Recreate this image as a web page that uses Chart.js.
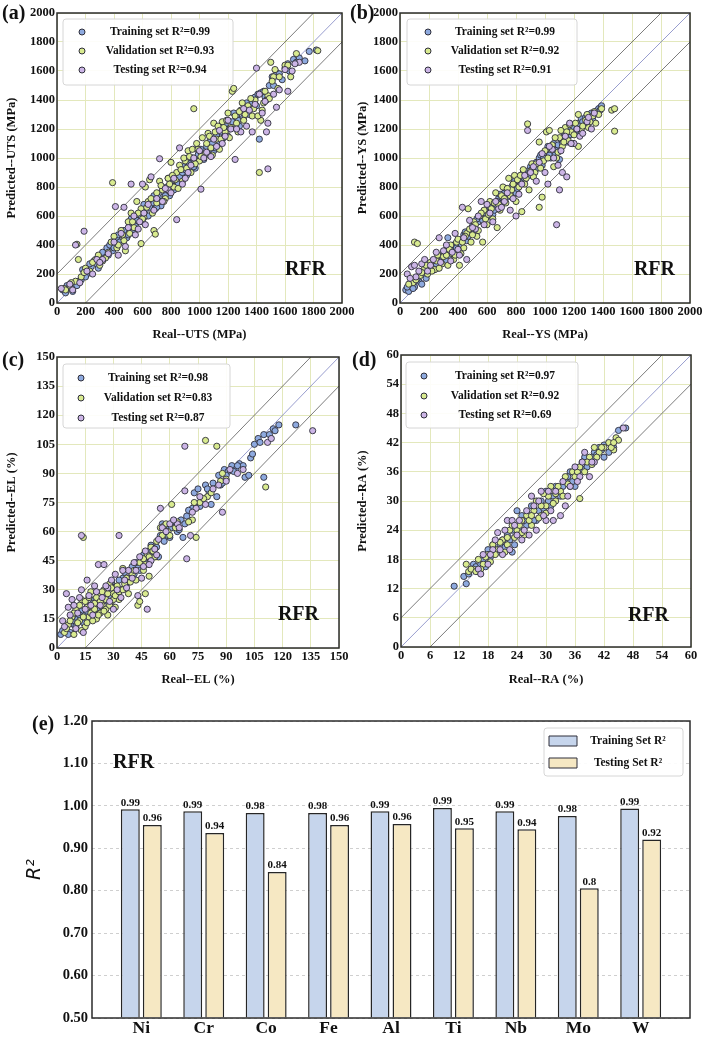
<!DOCTYPE html>
<html>
<head>
<meta charset="utf-8">
<script src="https://cdn.jsdelivr.net/npm/chart.js@4.4.1/dist/chart.umd.min.js"></script>
<style>
body{margin:0;background:#fff;}
#wrap{position:relative;width:710px;height:1040px;overflow:hidden;}
canvas{position:absolute;}
</style>
</head>
<body>
<div id="wrap">
<canvas id="cA" width="362" height="345" style="left:0;top:0"></canvas>
<canvas id="cB" width="355" height="345" style="left:350px;top:0"></canvas>
<canvas id="cC" width="350" height="345" style="left:0;top:345px"></canvas>
<canvas id="cD" width="355" height="345" style="left:350px;top:345px"></canvas>
<canvas id="cE" width="710" height="350" style="left:0;top:690px"></canvas>
</div>
<script>
const serif = "'Liberation Serif', 'Times New Roman', serif";
const trainColor = '#8eaadf';
const valColor = '#d9eb8f';
const testColor = '#ccb5e6';
const edgeColor = '#2e2e3a';

// (a) UTS, MPa  [real, predicted]
const utsTrain = [[40,90],[60,70],[80,110],[100,100],[120,130],[150,150],[170,160],[180,230],[210,200],[240,250],[260,290],[280,270],[300,320],[330,330],[350,380],[370,400],[390,360],[420,440],[440,420],[460,480],[490,450],[510,540],[530,500],[560,570],[580,620],[600,560],[620,640],[640,600],[670,690],[690,650],[710,730],[730,670],[750,760],[770,800],[790,740],[810,840],[830,870],[850,820],[870,890],[890,940],[910,880],[930,960],[950,1000],[970,930],[990,1020],[1010,1060],[1030,990],[1050,1080],[1070,1110],[1100,1050],[1120,1160],[1140,1100],[1160,1200],[1180,1230],[1200,1150],[1230,1250],[1260,1290],[1280,1220],[1300,1330],[1330,1380],[1350,1300],[1380,1410],[1400,1360],[1420,1130],[1430,1450],[1460,1420],[1490,1500],[1510,1560],[1540,1590],[1580,1540],[1600,1620],[1630,1600],[1660,1680],[1700,1690],[1740,1670],[1770,1735],[1820,1745],
  [70,120],[110,80],[140,120],[200,180],[230,270],[290,240],[320,350],[360,330],[400,380],[430,470],[470,500],[500,470],[520,580],[550,530],[590,600],[610,680],[650,660],[680,740],[700,660],[720,700],[760,740],[780,860],[800,810],[820,780],[860,870],[880,900],[900,920],[920,1000],[960,940],[980,1060],[1000,990],[1040,1020],[1060,1040],[1090,1100],[1110,1070],[1150,1180],[1170,1140],[1210,1200],[1240,1310],[1270,1260],[1310,1280],[1340,1340],[1370,1380],[1390,1420],[1410,1440],[1450,1460],[1470,1400],[1520,1500],[1560,1580],[1620,1650],[1680,1660]];
const utsVal = [[50,100],[90,120],[130,150],[150,300],[140,405],[170,180],[200,240],[230,220],[270,300],[300,260],[340,310],[360,350],[390,830],[400,460],[420,380],[450,500],[470,430],[500,560],[520,620],[540,520],[560,700],[590,410],[590,650],[610,590],[620,800],[640,700],[650,850],[670,620],[680,500],[690,475],[700,760],[720,840],[740,780],[760,720],[780,860],[800,970],[820,800],[840,900],[860,950],[880,840],[900,980],[920,1050],[940,900],[950,1060],[960,1340],[980,1100],[1000,980],[1020,1140],[1040,1030],[1060,1170],[1080,1070],[1100,1240],[1120,1130],[1140,1060],[1160,1250],[1180,1180],[1200,1310],[1220,1210],[1230,1460],[1240,1480],[1250,1290],[1270,1180],[1290,1330],[1310,1260],[1340,1360],[1370,1290],[1390,1400],[1420,900],[1430,1260],[1450,1380],[1480,1430],[1500,1660],[1520,1560],[1550,1480],[1600,1640],[1640,1560],[1680,1720],[1830,1740],
  [60,90],[100,140],[190,210],[250,280],[290,330],[320,290],[380,420],[430,400],[460,470],[480,360],[510,480],[530,560],[570,620],[600,580],[630,660],[660,720],[700,690],[730,810],[750,700],[790,820],[810,880],[830,850],[850,790],[870,920],[890,1000],[910,930],[930,1010],[970,960],[990,1060],[1010,1010],[1050,1100],[1070,1150],[1090,1020],[1110,1180],[1130,1220],[1150,1130],[1170,1210],[1190,1260],[1210,1140],[1260,1240],[1280,1320],[1300,1380],[1320,1300],[1360,1410],[1380,1340],[1410,1290],[1440,1330],[1460,1460],[1490,1410],[1510,1530],[1530,1610],[1560,1560],[1620,1640]];
const utsTest = [[30,100],[110,90],[130,400],[190,495],[160,140],[250,200],[280,300],[320,300],[410,665],[430,330],[470,660],[480,390],[520,820],[550,470],[580,560],[600,820],[620,540],[660,870],[680,640],[720,995],[740,700],[780,780],[840,575],[860,1070],[880,820],[900,860],[940,950],[1010,785],[1030,1000],[1080,1010],[1120,1080],[1160,1100],[1200,1260],[1250,990],[1290,1180],[1330,1220],[1370,1180],[1400,1620],[1440,1310],[1470,1180],[1480,1240],[1480,925],[1540,1350],[1560,1470],[1620,1460],[1650,1600],[1700,1660],
  [90,130],[210,220],[300,280],[360,340],[400,420],[450,480],[500,520],[540,600],[570,510],[610,620],[640,680],[700,720],[760,790],[800,760],[820,860],[920,900],[960,1000],[1000,1050],[1050,1040],[1100,1130],[1140,1190],[1180,1150],[1220,1200],[1260,1200],[1310,1340],[1350,1330],[1390,1370],[1420,1440],[1460,1390],[1520,1440],[1600,1610],[1670,1650]];
const utsR2 = ['0.99', '0.93', '0.94'];

// (b) YS, MPa
const ysTrain = [[40,90],[60,80],[70,120],[100,110],[130,150],[160,200],[180,170],[200,230],[230,260],[260,240],[280,300],[300,340],[330,450],[340,310],[360,380],[380,350],[400,420],[420,400],[440,470],[460,430],[480,500],[500,530],[520,490],[540,560],[560,600],[580,550],[600,630],[620,660],[640,610],[660,680],[680,720],[700,690],[720,760],[740,730],[760,780],[780,820],[800,760],[820,860],[840,880],[860,850],[880,910],[900,940],[920,890],[940,970],[960,1000],[980,950],[1000,1030],[1020,1080],[1040,1000],[1060,1100],[1080,1050],[1100,990],[1110,1130],[1130,1150],[1150,1110],[1170,1190],[1190,1230],[1210,1180],[1230,1240],[1250,1270],[1270,1230],[1290,1280],[1310,1300],[1330,1260],[1350,1320],[1370,1340],[1390,1360],
  [50,110],[90,100],[120,170],[150,130],[210,250],[250,270],[290,320],[320,290],[370,400],[390,380],[430,440],[450,490],[470,460],[510,500],[530,580],[570,570],[590,620],[610,600],[650,640],[670,700],[690,750],[710,720],[730,790],[750,750],[770,800],[790,840],[810,790],[830,830],[850,900],[870,870],[890,880],[910,920],[930,950],[950,930],[970,1020],[990,1000],[1010,1050],[1030,1020],[1050,1080],[1070,1020],[1090,1090],[1120,1100],[1140,1180],[1160,1150],[1180,1160],[1200,1210],[1220,1200],[1240,1220],[1260,1250],[1280,1280],[1300,1260],[1320,1310],[1340,1300],[1380,1330]];
const ysVal = [[90,140],[100,420],[120,410],[140,190],[170,240],[190,200],[210,280],[240,230],[260,330],[290,270],[310,360],[330,260],[350,400],[370,300],[390,420],[410,260],[420,340],[440,380],[460,480],[470,650],[490,420],[510,560],[530,460],[550,600],[570,420],[580,640],[600,540],[620,700],[640,580],[660,760],[670,520],[690,640],[710,800],[730,690],[750,860],[770,780],[790,880],[800,700],[820,800],[840,630],[850,920],[870,860],[880,1235],[890,780],[910,960],[930,900],[960,660],[960,1110],[980,730],[990,980],[1010,1180],[1030,1190],[1040,1060],[1060,940],[1080,1000],[1100,1140],[1120,1080],[1140,1210],[1160,1120],[1180,1180],[1200,1160],[1230,1300],[1230,1080],[1250,1200],[1280,1260],[1300,1210],[1330,1290],[1350,1240],[1390,1340],[1460,1330],[1480,1340],[1480,1185],
  [60,130],[110,160],[150,210],[180,260],[220,220],[250,290],[270,240],[300,320],[320,330],[340,370],[360,340],[380,330],[400,440],[430,420],[450,460],[480,510],[500,470],[520,540],[540,500],[560,620],[590,580],[610,610],[630,650],[650,690],[680,680],[700,740],[720,720],[740,790],[760,740],[780,820],[810,850],[830,880],[860,820],[900,910],[920,870],[940,960],[970,930],[1000,1050],[1020,1000],[1050,1090],[1070,1140],[1090,1040],[1110,1190],[1130,1110],[1150,1180],[1170,1230],[1190,1100],[1210,1240],[1260,1220],[1290,1300],[1310,1250],[1340,1320],[1370,1300]];
const ysTest = [[50,200],[80,250],[110,180],[150,270],[190,220],[230,300],[270,450],[300,360],[350,290],[380,480],[410,330],[430,660],[460,300],[480,570],[520,510],[560,700],[600,680],[640,560],[680,650],[720,700],[760,640],[800,600],[840,820],[880,1190],[900,900],[940,840],[980,1030],[1020,820],[1050,1060],[1080,540],[1090,950],[1100,780],[1120,900],[1150,870],[1170,1240],[1200,1100],[1240,1150],[1290,1250],[1320,1200],
  [70,170],[100,260],[130,220],[170,300],[210,260],[250,350],[280,280],[320,400],[360,350],[400,370],[440,450],[500,520],[540,600],[580,540],[620,620],[660,700],[700,660],[740,760],[780,720],[820,750],[860,880],[920,940],[960,970],[1000,900],[1030,1080],[1060,1000],[1110,1050],[1140,1150],[1180,1100],[1220,1200],[1260,1170],[1300,1280],[1340,1310]];
const ysR2 = ['0.99', '0.92', '0.91'];

// (c) EL, %
const elTrain = [[2,7],[5,10],[7,8],[9,12],[11,15],[13,19],[15,17],[17,22],[20,25],[22,20],[25,28],[27,24],[30,32],[32,29],[35,36],[37,33],[39,40],[41,38],[43,42],[45,46],[47,44],[49,50],[51,48],[53,52],[55,58],[57,55],[58,62],[60,57],[62,64],[64,60],[66,66],[67,57],[69,68],[72,72],[73,80],[75,82],[77,76],[79,84],[81,80],[83,85],[85,78],[87,84],[89,92],[91,91],[93,94],[95,92],[97,95],[99,94],[100,88],[102,89],[103,98],[105,105],[107,108],[110,110],[110,88],[113,110],[115,113],[118,115],[127,115],
  [3,9],[6,7],[8,14],[10,11],[12,17],[14,13],[16,19],[18,16],[19,23],[21,24],[23,26],[24,21],[26,30],[28,27],[29,34],[31,31],[33,35],[34,30],[36,39],[38,36],[40,42],[42,44],[44,40],[46,48],[48,47],[50,53],[52,51],[54,47],[56,64],[59,58],[61,62],[63,65],[65,61],[68,64],[70,71],[76,73],[80,82],[82,74],[86,89],[88,85],[90,89],[94,91],[96,94],[104,100],[108,106],[116,112]];
const elVal = [[4,8],[6,12],[8,16],[9,7],[10,20],[12,14],[13,25],[14,57],[15,11],[16,21],[17,16],[18,29],[19,19],[20,23],[21,15],[22,27],[23,18],[24,22],[25,30],[26,20],[27,17],[28,33],[29,24],[30,28],[31,21],[33,25],[34,30],[35,41],[36,33],[38,28],[40,38],[42,35],[43,22],[44,24],[45,45],[46,40],[47,28],[48,48],[49,37],[50,52],[52,47],[55,62],[57,63],[59,60],[61,74],[63,62],[72,66],[74,57],[76,75],[79,107],[80,78],[85,104],[88,90],[90,87],[111,83],
  [5,10],[7,14],[9,18],[11,13],[12,22],[13,9],[14,16],[15,24],[16,13],[17,26],[18,18],[19,14],[20,20],[21,26],[22,17],[23,24],[24,29],[25,19],[26,25],[27,28],[28,22],[29,31],[30,25],[31,27],[32,32],[33,29],[35,30],[37,36],[39,34],[41,40],[44,44],[46,46],[47,43],[49,47],[51,50],[53,55],[56,58],[58,64],[60,58],[64,65],[70,65],[73,75],[78,77],[82,80],[87,86]];
const elTest = [[3,14],[5,28],[6,21],[8,25],[10,10],[12,26],[13,58],[14,8],[16,35],[18,22],[20,32],[22,43],[24,26],[25,43],[27,31],[30,20],[31,38],[33,58],[34,26],[36,35],[38,40],[41,44],[43,27],[45,36],[47,50],[48,20],[50,45],[53,48],[55,72],[56,62],[64,64],[68,104],[68,81],[69,46],[71,58],[74,72],[79,74],[83,82],[88,70],[90,86],[99,92],[112,106],[136,112],
  [4,11],[7,17],[9,22],[11,18],[13,30],[15,20],[17,27],[19,17],[21,29],[23,22],[26,32],[28,24],[29,35],[32,30],[35,40],[37,31],[40,36],[42,40],[44,47],[46,42],[49,43],[52,51],[54,56],[58,60],[60,64],[62,66],[65,62],[72,70],[76,78],[86,84],[92,92],[96,90],[114,108]];
const elR2 = ['0.98', '0.83', '0.87'];

// (d) RA, %
const raTrain = [[11,12.5],[13,14.5],[13.5,13],[15,17],[16,15.5],[17,18],[18,20],[19,21],[20,19.5],[21,22],[22,23],[23,19.5],[23.5,21],[24,28],[25,27],[26,25],[27,29],[28,26],[29,30],[30,32],[31,29],[32,33],[33,31],[34,34],[35,36],[36,33],[37,37],[38,39],[39,38],[40,40],[41,41],[42,39],[42,41.5],[44,41],[45,44.5],[46.5,45],
  [14,15],[15.5,16.5],[16.5,17],[17.5,16.5],[18.5,18.5],[19.5,20],[20.5,21],[21.5,20.5],[22.5,22],[23,24],[24.5,24],[25.5,26],[26.5,27],[27.5,26],[28.5,28],[29.5,28.5],[30.5,30],[31.5,31],[32.5,32],[33.5,33],[34.5,35],[35.5,34],[36.5,36],[37.5,36.5],[38.5,37],[39.5,39],[40.5,39.5],[41.5,40.5],[43,40]];
const raVal = [[13.5,17],[14,15.5],[15,16],[16,18],[17,17],[18,19],[19,21],[20,20],[21,22],[22,21],[22.5,24],[23,25],[24,24],[25,26],[25.5,23],[26,27],[27,25],[27.5,28],[28,30],[29,27],[30,29],[30.5,31],[31,33],[32,30],[33,32],[34,35],[35,33],[35.5,36],[36,35],[37,30.5],[37.5,38],[38,36],[39,39],[40,41],[41,40],[42,41],[43,42],[44,40.5],[44.5,43],[45,42.5],
  [14.5,16],[15.5,15.5],[16.5,16],[17.5,18.5],[18.5,17.5],[19.5,19],[20.5,21.5],[21.5,19.5],[22,22.5],[23.5,22.5],[24.5,25],[25,23.5],[26.5,26],[27,27],[28.5,26.5],[29,29],[29.5,31.5],[30,27.5],[31.5,29.5],[32,31.5],[32.5,33],[33.5,31],[34.5,33.5],[36.5,36],[37,37],[38.5,38],[39.5,37.5],[40.5,39],[41.5,41],[43.5,41],[44,42]];
const raTest = [[16,16],[17,19],[18,17],[19,20],[20,23.5],[21,19],[22,26],[23,26],[24,23],[25,22],[26,28],[27,31],[28,24],[29,32],[30,26],[31,28],[32,32],[33,27],[34,29],[35,33],[36,37],[37,35],[38,40],[39,35],[40,38],[46,45],
  [16.5,15],[18.5,19],[19.5,22],[20.5,20],[21.5,24],[22.5,20],[23.5,25],[24.5,26],[25.5,24],[26.5,23],[27.5,29],[28.5,30],[29.5,27],[30.5,32],[31.5,26],[33.5,34],[34.5,31],[36.5,34],[37.5,38],[39.5,38]];
const raR2 = ['0.97', '0.92', '0.69'];

// (e) R2 per element
const elements = ['Ni', 'Cr', 'Co', 'Fe', 'Al', 'Ti', 'Nb', 'Mo', 'W'];
const trainR2 = [0.992, 0.987, 0.983, 0.983, 0.987, 0.995, 0.987, 0.976, 0.994];
const testR2 = [0.955, 0.936, 0.844, 0.955, 0.957, 0.947, 0.945, 0.806, 0.921];
const trainR2Text = ['0.99', '0.99', '0.98', '0.98', '0.99', '0.99', '0.99', '0.98', '0.99'];
const testR2Text = ['0.96', '0.94', '0.84', '0.96', '0.96', '0.95', '0.94', '0.8', '0.92'];

const toXY = arr => arr.map(p => ({x: p[0], y: p[1]}));

// frame, panel tag, RFR text and legend box
const deco = {
  id: 'deco',
  afterDatasetsDraw(chart, args, o) {
    const ctx = chart.ctx, a = chart.chartArea;
    ctx.save();
    ctx.strokeStyle = '#2b2b2b';
    ctx.lineWidth = 1.5;
    ctx.strokeRect(a.left, a.top, a.right - a.left, a.bottom - a.top);

    ctx.fillStyle = '#111';
    ctx.textBaseline = 'middle';
    ctx.textAlign = 'left';
    ctx.font = 'bold 20px ' + serif;
    ctx.fillText(o.tag[0], o.tag[1], o.tag[2]);

    ctx.font = 'bold 20px ' + serif;
    ctx.textAlign = o.rfr[3];
    ctx.fillText('RFR', o.rfr[0], o.rfr[1]);

    const L = o.legend;
    ctx.beginPath();
    ctx.roundRect(L.x, L.y, L.w, L.h, 3);
    ctx.fillStyle = 'rgba(255,255,255,0.9)';
    ctx.fill();
    ctx.strokeStyle = '#d6d6d6';
    ctx.lineWidth = 1;
    ctx.stroke();
    ctx.font = 'bold 11.5px ' + serif;
    ctx.textAlign = 'center';
    L.items.forEach((it, i) => {
      const y = L.rows[i];
      ctx.fillStyle = it.color;
      ctx.strokeStyle = edgeColor;
      ctx.lineWidth = 1;
      ctx.beginPath();
      if (L.box) {
        ctx.rect(L.markX - 14, y - 5, 28, 10);
      } else {
        ctx.arc(L.markX, y, 3, 0, Math.PI * 2);
      }
      ctx.fill();
      ctx.stroke();
      ctx.fillStyle = '#111';
      ctx.fillText(it.text, L.textX, y + 0.5);
    });

    if (o.barText) {
      ctx.font = 'bold 11px ' + serif;
      ctx.textAlign = 'center';
      ctx.textBaseline = 'bottom';
      ctx.fillStyle = '#111';
      o.barText.forEach((txt, di) => {
        chart.getDatasetMeta(di).data.forEach((el, i) => {
          ctx.fillText(txt[i], el.x, el.y - 1);
        });
      });
    }
    ctx.restore();
  }
};

function scatterPanel(id, g, d) {
  const M = d.max, b = d.max / 10;
  const lineDs = (pts, color) => ({
    data: toXY(pts), showLine: true, pointRadius: 0, borderColor: color,
    borderWidth: 0.8, order: 10
  });
  const ptDs = (pts, color, order) => ({
    data: toXY(pts), backgroundColor: color, borderColor: edgeColor,
    borderWidth: 0.9, pointRadius: 3.1, order: order
  });
  const axis = (title, w, h, tpad) => ({
    type: 'linear', min: 0, max: M,
    ticks: {stepSize: d.step, color: '#111', font: {family: serif, size: 12.5, weight: 'bold'},
            padding: tpad, autoSkip: false, maxRotation: 0, minRotation: 0,
            callback: v => String(v)},
    grid: {color: '#e3e8bc', lineWidth: 1, drawTicks: false},
    border: {display: false},
    title: {display: true, text: title, color: '#111',
            font: {family: serif, size: 12.5, weight: 'bold'},
            padding: w ? {top: g.ytp, bottom: 0} : {top: 0, bottom: 2.5}},
    afterFit(s) {
      if (w) s.width = w;
      if (h) s.height = h;
      s.paddingLeft = 0; s.paddingRight = 0; s.paddingTop = 0; s.paddingBottom = 0;
    }
  });
  return new Chart(document.getElementById(id), {
    type: 'scatter',
    data: {
      datasets: [
        ptDs(d.train, trainColor, 3),
        ptDs(d.val, valColor, 2),
        ptDs(d.test, testColor, 1),
        lineDs([[0, 0], [M, M]], '#7d84c2'),
        lineDs([[0, b], [M - b, M]], '#5a5a5a'),
        lineDs([[b, 0], [M, M - b]], '#5a5a5a')
      ]
    },
    options: {
      responsive: false,
      animation: false,
      layout: {padding: {top: g.top, right: g.right, left: 0, bottom: 0}},
      plugins: {
        legend: {display: false},
        tooltip: {enabled: false},
        deco: {
          tag: g.tag, rfr: g.rfr,
          legend: {
            x: g.leg[0], y: g.leg[1], w: g.leg[2], h: g.leg[3],
            rows: g.rows, markX: g.markX, textX: g.textX,
            items: [
              {text: 'Training set R\u00b2=' + d.r2[0], color: trainColor},
              {text: 'Validation set R\u00b2=' + d.r2[1], color: valColor},
              {text: 'Testing set R\u00b2=' + d.r2[2], color: testColor}
            ]
          }
        }
      },
      scales: {
        x: axis(d.xTitle, 0, g.xh, 1.5),
        y: axis(d.yTitle, g.yw, 0, 2)
      }
    },
    plugins: [deco]
  });
}

scatterPanel('cA',
  {top: 13, right: 20, yw: 57, xh: 42, ytp: 4.5, tag: ['(a)', 2, 14], rfr: [326, 270, 0, 'right'],
   leg: [63, 19, 170, 66], rows: [32, 51, 70], markX: 82, textX: 160},
  {max: 2000, step: 200, train: utsTrain, val: utsVal, test: utsTest, r2: utsR2,
   xTitle: 'Real--UTS (MPa)', yTitle: 'Predicted--UTS (MPa)'});

scatterPanel('cB',
  {top: 13, right: 15, yw: 50, xh: 42, ytp: 5.5, tag: ['(b)', 0, 14], rfr: [325, 270, 0, 'right'],
   leg: [57, 19, 170, 66], rows: [32, 51, 70], markX: 78, textX: 155},
  {max: 2000, step: 200, train: ysTrain, val: ysVal, test: ysTest, r2: ysR2,
   xTitle: 'Real--YS (MPa)', yTitle: 'Predicted--YS (MPa)'});

scatterPanel('cC',
  {top: 12, right: 11, yw: 57, xh: 42, ytp: 4.5, tag: ['(c)', 2, 16], rfr: [319, 270, 0, 'right'],
   leg: [63, 19, 167, 64], rows: [33, 53, 73], markX: 81, textX: 158},
  {max: 150, step: 15, train: elTrain, val: elVal, test: elTest, r2: elR2,
   xTitle: 'Real--EL (%)', yTitle: 'Predicted--EL (%)'});

scatterPanel('cD',
  {top: 10, right: 14, yw: 51, xh: 43, ytp: 5.5, tag: ['(d)', 2, 16], rfr: [319, 271, 0, 'right'],
   leg: [56, 17, 172, 66], rows: [31, 51, 70], markX: 74, textX: 155},
  {max: 60, step: 6, train: raTrain, val: raVal, test: raTest, r2: raR2,
   xTitle: 'Real--RA (%)', yTitle: 'Predicted--RA (%)'});

// (e) bar chart on a linear x axis so the side margins match the reference
const barDs = (vals, color, label) => ({
  label: label,
  data: vals.map((v, i) => ({x: i, y: v})),
  backgroundColor: color, borderColor: '#262626', borderWidth: 1.5,
  base: 0.5, categoryPercentage: 0.705, barPercentage: 0.86
});

new Chart(document.getElementById('cE'), {
  type: 'bar',
  data: {
    datasets: [
      barDs(trainR2, '#c6d5ec', 'Training Set R\u00b2'),
      barDs(testR2, '#f6e8c3', 'Testing Set R\u00b2')
    ]
  },
  options: {
    responsive: false,
    animation: false,
    layout: {padding: {top: 31, right: 20, left: 0, bottom: 0}},
    plugins: {
      legend: {display: false},
      tooltip: {enabled: false},
      deco: {
        tag: ['(e)', 32, 35], rfr: [113, 73, 0, 'left'],
        legend: {
          x: 544, y: 38, w: 139, h: 48, rows: [51, 73], markX: 563, textX: 628, box: true,
          items: [
            {text: 'Training Set R\u00b2', color: '#c6d5ec'},
            {text: 'Testing Set R\u00b2', color: '#f6e8c3'}
          ]
        },
        barText: [trainR2Text, testR2Text]
      }
    },
    scales: {
      x: {
        type: 'linear', offset: false, min: -0.79, max: elements.length - 1 + 0.79,
        afterBuildTicks(s) { s.ticks = elements.map((e, i) => ({value: i})); },
        ticks: {
          callback: v => elements[v], color: '#111', padding: 0,
          font: {family: serif, size: 17.5, weight: 'bold'}, autoSkip: false, maxRotation: 0
        },
        grid: {display: false, drawTicks: false},
        border: {display: false},
        afterFit(s) { s.height = 22; s.paddingLeft = 0; s.paddingRight = 0; }
      },
      y: {
        min: 0.5, max: 1.2,
        ticks: {
          stepSize: 0.1, callback: v => v.toFixed(2), color: '#111', padding: 4,
          font: {family: serif, size: 14.5, weight: 'bold'}
        },
        grid: {color: '#cfcfcf', lineWidth: 1, drawTicks: false},
        border: {display: false, dash: [3, 3]},
        title: {
          display: true, text: 'R\u00b2', color: '#111',
          font: {family: "'DejaVu Sans', sans-serif", size: 19, style: 'italic'},
          padding: {top: 24, bottom: 0}
        },
        afterFit(s) { s.width = 92; s.paddingTop = 0; s.paddingBottom = 0; }
      }
    }
  },
  plugins: [deco]
});
</script>
</body>
</html>
